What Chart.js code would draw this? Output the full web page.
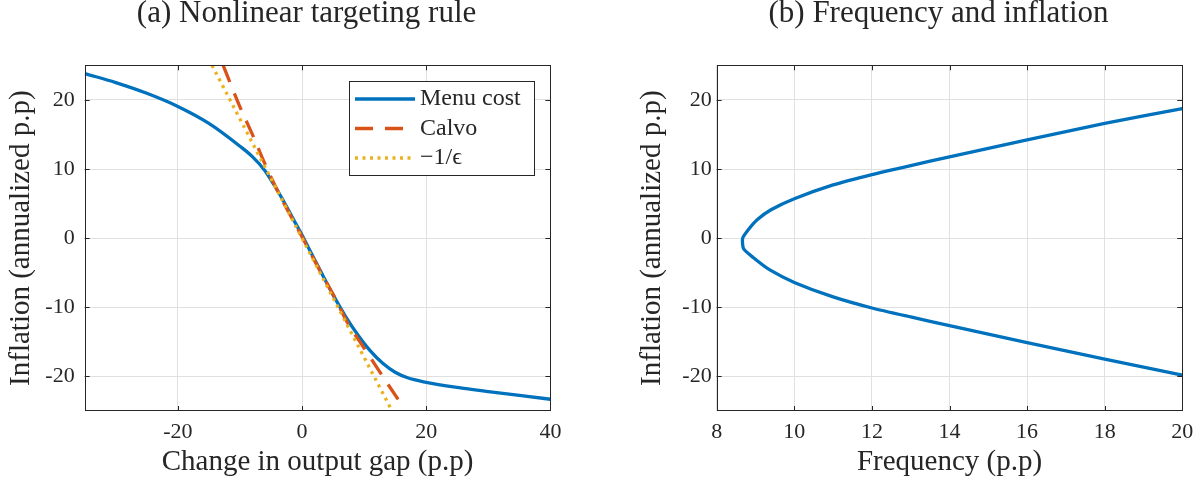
<!DOCTYPE html>
<html>
<head>
<meta charset="utf-8">
<script src="https://cdn.jsdelivr.net/npm/chart.js@4/dist/chart.umd.min.js"></script>
<style>
  html, body { margin: 0; padding: 0; background: #fff; }
  #wrap { display: flex; width: 1202px; height: 484px; }
  canvas { display: block; }
</style>
</head>
<body>
<div id="wrap">
  <canvas id="canvas-a" width="601" height="484"></canvas>
  <canvas id="canvas-b" width="601" height="484"></canvas>
</div>
<script>
// panel (a): nonlinear targeting rule
var titleA = '(a) Nonlinear targeting rule';
var gapTicks = [-20, 0, 20, 40];
var inflTicks = [-20, -10, 0, 10, 20];

var menuGap  = [-35, -30, -25, -20, -15, -10, -8, -6, -4.5, -3, -1.5, 0, 1.5, 3, 5, 7, 9, 11, 13, 15, 17, 20, 25, 30, 35, 40];
var menuInfl = [23.8, 22.5, 20.95, 19.05, 16.6, 13.3, 11.8, 9.8, 7.7, 5.4, 2.9, 0.45, -2.2, -4.8, -8.2, -11.3, -14.0, -16.3, -18.1, -19.4, -20.2, -20.85, -21.6, -22.2, -22.75, -23.3];

var calvoGap  = [-12.7, -10.0, -7.8, -6.4, -4.3, -2.9, 0, 2.4, 5.1, 7.3, 10.0, 13.0, 16.35];
var calvoInfl = [25, 19.0, 14.6, 11.6, 7.5, 5.0, 0.2, -3.9, -8.3, -12.2, -15.9, -20.0, -24.5];

var epsGap  = [-14.5, 0, 14.5];
var epsInfl = [25, 0, -25];

// panel (b): frequency and inflation
var titleB = '(b) Frequency and inflation';
var freqTicks = [8, 10, 12, 14, 16, 18, 20];
var freqValues = [20, 18, 16, 14, 13, 12, 11, 10, 9.4, 9.05, 8.84, 8.67, 8.69, 8.94, 9.37, 10, 11, 12, 13, 14, 16, 18, 20];
var freqInfl   = [18.75, 16.6, 14.2, 11.75, 10.5, 9.2, 7.7, 5.7, 4.1, 2.7, 1.4, 0, -1.5, -2.8, -4.6, -6.4, -8.5, -10.1, -11.4, -12.65, -15.1, -17.5, -19.8];

var serif = '"Liberation Serif", "Times New Roman", serif';
var ink = '#262626';
var gridColor = '#e0e0e0';
Chart.defaults.font.family = serif;
Chart.defaults.color = ink;

function pts(xs, ys) {
    return xs.map(function(x, i) { return {x: x, y: ys[i]}; });
}

// box round the axes with inward ticks on all four sides
var framePlugin = {
    id: 'frame',
    afterDatasetsDraw: function(chart) {
        var ctx = chart.ctx, a = chart.chartArea;
        var xs = chart.scales.x, ys = chart.scales.y;
        var len = 5;
        ctx.save();
        ctx.strokeStyle = ink;
        ctx.lineWidth = 1;
        ctx.beginPath();
        xs.ticks.forEach(function(t) {
            var px = Math.round(xs.getPixelForValue(t.value)) + 0.5;
            ctx.moveTo(px, a.bottom); ctx.lineTo(px, a.bottom - len);
            ctx.moveTo(px, a.top); ctx.lineTo(px, a.top + len);
        });
        ys.ticks.forEach(function(t) {
            var py = Math.round(ys.getPixelForValue(t.value)) + 0.5;
            ctx.moveTo(a.left, py); ctx.lineTo(a.left + len, py);
            ctx.moveTo(a.right, py); ctx.lineTo(a.right - len, py);
        });
        ctx.stroke();
        ctx.strokeRect(Math.round(a.left) + 0.5, Math.round(a.top) + 0.5,
                       Math.round(a.width) - 1, Math.round(a.height) - 1);
        ctx.restore();
    }
};

// panel title, slightly left of the axes centre like the original
var titlePlugin = {
    id: 'panelTitle',
    afterDraw: function(chart, args, opts) {
        var ctx = chart.ctx, a = chart.chartArea;
        ctx.save();
        ctx.fillStyle = ink;
        ctx.font = '31px ' + serif;
        ctx.textAlign = 'center';
        ctx.textBaseline = 'alphabetic';
        ctx.fillText(opts.text, (a.left + a.right) / 2 - 11, 22);
        ctx.restore();
    }
};

// boxed legend in the top right corner of the axes
var boxLegend = {
    id: 'boxLegend',
    afterDraw: function(chart) {
        var ctx = chart.ctx, a = chart.chartArea;
        var w = 185, h = 94, rowH = 29.5;
        var x0 = Math.round(a.right - 16 - w), y0 = Math.round(a.top + 16);
        ctx.save();
        ctx.fillStyle = '#fff';
        ctx.fillRect(x0, y0, w, h);
        ctx.strokeStyle = ink;
        ctx.lineWidth = 1;
        ctx.strokeRect(x0 + 0.5, y0 + 0.5, w, h);
        ctx.font = '24px ' + serif;
        ctx.textBaseline = 'middle';
        chart.data.datasets.forEach(function(ds, i) {
            var cy = y0 + 18 + i * rowH;
            ctx.beginPath();
            ctx.setLineDash(ds.borderDash || []);
            ctx.strokeStyle = ds.borderColor;
            ctx.lineWidth = ds.borderWidth;
            ctx.moveTo(x0 + 6, cy);
            ctx.lineTo(x0 + 66, cy);
            ctx.stroke();
            ctx.setLineDash([]);
            ctx.fillStyle = ink;
            ctx.fillText(ds.label, x0 + 71, cy);
        });
        ctx.restore();
    }
};

function xAxis(min, max, ticks, label) {
    return {
        type: 'linear', min: min, max: max,
        afterBuildTicks: function(s) { s.ticks = ticks.map(function(v) { return {value: v}; }); },
        afterFit: function(s) { s.height = 73; },
        grid: {color: gridColor, drawTicks: false},
        border: {display: false},
        ticks: {padding: 8, autoSkip: false, maxRotation: 0, font: {size: 22}, color: ink,
                callback: function(v) { return String(v); }},
        title: {display: true, text: label, font: {size: 29}, color: ink, padding: {top: 0, bottom: 4}}
    };
}

function yAxis(width, pad) {
    return {
        type: 'linear', min: -25, max: 25,
        afterBuildTicks: function(s) { s.ticks = inflTicks.map(function(v) { return {value: v}; }); },
        afterFit: function(s) { s.width = width; },
        grid: {color: gridColor, drawTicks: false},
        border: {display: false},
        ticks: {padding: pad, font: {size: 22}, color: ink,
                callback: function(v) { return String(v); }},
        title: {display: true, text: 'Inflation (annualized p.p)', font: {size: 29}, color: ink,
                padding: {top: 4, bottom: 0}}
    };
}

var chartA = new Chart(document.getElementById('canvas-a'), {
    type: 'scatter',
    data: {
        datasets: [{
            label: 'Menu cost',
            data: pts(menuGap, menuInfl),
            showLine: true, pointRadius: 0, borderColor: '#0072BD', borderWidth: 3.3,
            cubicInterpolationMode: 'monotone', clip: 0, order: 3
        }, {
            label: 'Calvo',
            data: pts(calvoGap, calvoInfl),
            showLine: true, pointRadius: 0, borderColor: '#D95319', borderWidth: 3.3,
            borderDash: [18, 12], cubicInterpolationMode: 'monotone', clip: 0, order: 2
        }, {
            label: '\u22121/\u03f5',
            data: pts(epsGap, epsInfl),
            showLine: true, pointRadius: 0, borderColor: '#EDB120', borderWidth: 3.3,
            borderDash: [3, 4.5], clip: 0, order: 1
        }]
    },
    options: {
        responsive: false,
        animation: false,
        layout: {padding: {left: 0, right: 50.6, top: 65.3, bottom: 0}},
        plugins: {legend: {display: false}, tooltip: {enabled: false}, panelTitle: {text: titleA}},
        scales: {
            x: xAxis(-35, 40, gapTicks, 'Change in output gap (p.p)'),
            y: yAxis(84.7, 10)
        }
    },
    plugins: [framePlugin, boxLegend, titlePlugin]
});

var chartB = new Chart(document.getElementById('canvas-b'), {
    type: 'scatter',
    data: {
        datasets: [{
            label: 'Frequency',
            data: pts(freqValues, freqInfl),
            showLine: true, pointRadius: 0, borderColor: '#0072BD', borderWidth: 3.3,
            tension: 0.2, clip: 0
        }]
    },
    options: {
        responsive: false,
        animation: false,
        layout: {padding: {left: 30, right: 19.7, top: 65.3, bottom: 0}},
        plugins: {legend: {display: false}, tooltip: {enabled: false}, panelTitle: {text: titleB}},
        scales: {
            x: xAxis(8, 20, freqTicks, 'Frequency (p.p)'),
            y: yAxis(85.7, 5)
        }
    },
    plugins: [framePlugin, titlePlugin]
});
</script>
</body>
</html>
